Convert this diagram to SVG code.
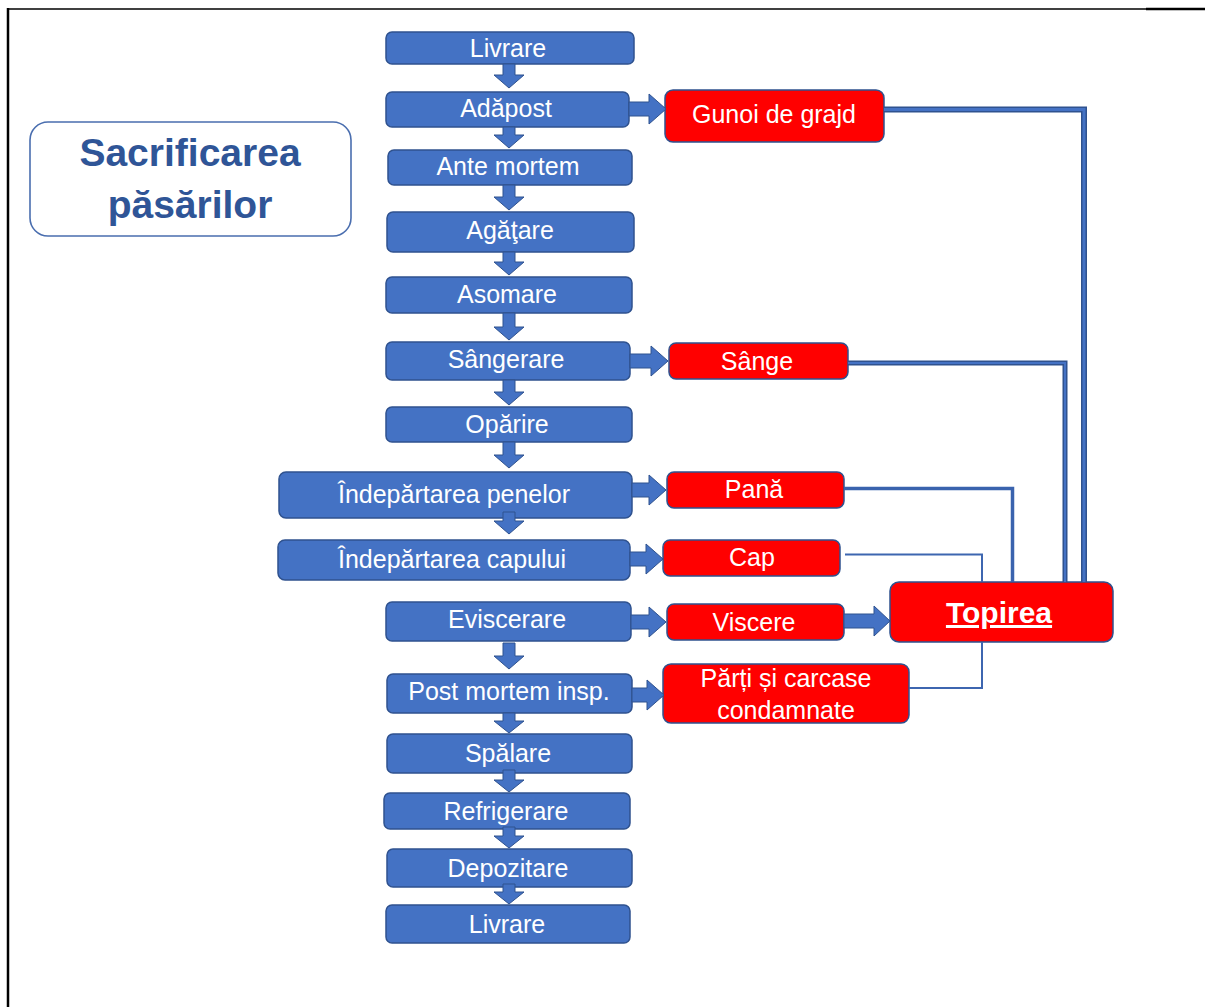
<svg xmlns="http://www.w3.org/2000/svg" width="1205" height="1007" viewBox="0 0 1205 1007">
<style>
text{font-family:"Liberation Sans",Arial,sans-serif;font-size:25px;fill:#fff;text-anchor:middle}
.step rect{fill:#4472C4;stroke:#2F528F;stroke-width:1.5}
.waste rect{fill:#FF0000;stroke:#2F528F;stroke-width:1.5}
.title rect{fill:#fff;stroke:#4A6EAF;stroke-width:1.6}
.title text{font-size:39px;font-weight:bold;fill:#2F5597}
.big text{font-size:30px;font-weight:bold;text-decoration:underline}
.arrow{fill:#4472C4;stroke:#2F528F;stroke-width:1}
.wire{fill:none;stroke-linejoin:miter;stroke-linecap:butt}
.dark{stroke:#2F528F}
.light{stroke:#4472C4}
</style>

<!-- page frame -->
<g id="frame" fill="none" stroke="#000">
  <path d="M7,9H1146" stroke-width="1.5"/>
  <path d="M1146,9H1205" stroke-width="2.5"/>
  <path d="M8,8V1007" stroke-width="2.5"/>
</g>

<!-- title -->
<g id="title" class="title">
  <rect x="30" y="122" width="321" height="114" rx="18"/>
  <text x="190" y="166">Sacrificarea</text>
  <text x="190" y="218">păsărilor</text>
</g>

<!-- processing steps -->
<g id="n-livrare1" class="step"><rect x="386" y="32" width="248" height="32" rx="6"/><text x="508" y="57">Livrare</text></g>
<g id="n-adapost" class="step"><rect x="386" y="92" width="243" height="35" rx="6"/><text x="506" y="117">Adăpost</text></g>
<g id="n-antemortem" class="step"><rect x="388" y="150" width="244" height="35" rx="6"/><text x="508" y="175">Ante mortem</text></g>
<g id="n-agatare" class="step"><rect x="387" y="212" width="247" height="40" rx="6"/><text x="510" y="239">Agăţare</text></g>
<g id="n-asomare" class="step"><rect x="386" y="277" width="246" height="36" rx="6"/><text x="507" y="303">Asomare</text></g>
<g id="n-sangerare" class="step"><rect x="386" y="342" width="244" height="38" rx="6"/><text x="506" y="368">Sângerare</text></g>
<g id="n-oparire" class="step"><rect x="386" y="407" width="246" height="35" rx="6"/><text x="507" y="433">Opărire</text></g>
<g id="n-penelor" class="step"><rect x="279" y="472" width="353" height="46" rx="7"/><text x="454" y="503">Îndepărtarea penelor</text></g>
<g id="n-capului" class="step"><rect x="278" y="540" width="352" height="40" rx="7"/><text x="452" y="568">Îndepărtarea capului</text></g>
<g id="n-eviscerare" class="step"><rect x="386" y="602" width="245" height="39" rx="6"/><text x="507" y="628">Eviscerare</text></g>
<g id="n-postmortem" class="step"><rect x="387" y="674" width="245" height="39" rx="6"/><text x="509" y="700">Post mortem insp.</text></g>
<g id="n-spalare" class="step"><rect x="387" y="734" width="245" height="39" rx="6"/><text x="508" y="762">Spălare</text></g>
<g id="n-refrigerare" class="step"><rect x="384" y="793" width="246" height="36" rx="6"/><text x="506" y="820">Refrigerare</text></g>
<g id="n-depozitare" class="step"><rect x="387" y="849" width="245" height="38" rx="6"/><text x="508" y="877">Depozitare</text></g>
<g id="n-livrare2" class="step"><rect x="386" y="905" width="244" height="38" rx="6"/><text x="507" y="933">Livrare</text></g>

<!-- by-products -->
<g id="n-gunoi" class="waste"><rect x="665" y="90" width="219" height="52" rx="8"/><text x="774" y="123">Gunoi de grajd</text></g>
<g id="n-sange" class="waste"><rect x="669" y="343" width="179" height="36" rx="7"/><text x="757" y="370">Sânge</text></g>
<g id="n-pana" class="waste"><rect x="667" y="472" width="177" height="36" rx="7"/><text x="754" y="498">Pană</text></g>
<g id="n-cap" class="waste"><rect x="663" y="540" width="177" height="36" rx="7"/><text x="752" y="566">Cap</text></g>
<g id="n-viscere" class="waste"><rect x="667" y="604" width="177" height="36" rx="7"/><text x="754" y="631">Viscere</text></g>
<g id="n-parti" class="waste"><rect x="663" y="664" width="246" height="59" rx="8"/><text x="786" y="687">Părți și carcase</text><text x="786" y="719">condamnate</text></g>
<g id="n-topirea" class="waste big"><rect x="890" y="582" width="223" height="60" rx="9"/><text x="999" y="623">Topirea</text></g>

<!-- connectors -->
<g id="connectors">
  <!-- lines collecting by-products into rendering -->
  <path class="wire dark" d="M884,109.5H1084V582" stroke-width="6"/>
  <path class="wire light" d="M884,109.5H1084V582" stroke-width="3"/>
  <path class="wire dark" d="M848,363H1065V582" stroke-width="5"/>
  <path class="wire light" d="M848,363H1065V582" stroke-width="2"/>
  <path class="wire" d="M844,488.5H1012.5V582" stroke="#3A63AE" stroke-width="3.5"/>
  <path class="wire" d="M845,554.5H982V582" stroke="#3D66B0" stroke-width="2"/>
  <path class="wire" d="M909,688H982V642" stroke="#3D66B0" stroke-width="2"/>

  <!-- flow arrows down the main line -->
  <path class="arrow" d="M503,64H515V75H524L509,88L494,75H503Z"/>
  <path class="arrow" d="M503,127H515V135H524L509,148L494,135H503Z"/>
  <path class="arrow" d="M503,185H515V197H524L509,210L494,197H503Z"/>
  <path class="arrow" d="M503,252H515V262H524L509,275L494,262H503Z"/>
  <path class="arrow" d="M503,313H515V327H524L509,340L494,327H503Z"/>
  <path class="arrow" d="M503,380H515V392H524L509,405L494,392H503Z"/>
  <path class="arrow" d="M503,442H515V455H524L509,468L494,455H503Z"/>
  <path class="arrow" d="M503,512H515V521H524L509,534L494,521H503Z"/>
  <path class="arrow" d="M503,643H515V656H524L509,669L494,656H503Z"/>
  <path class="arrow" d="M503,713H515V721H524L509,733L494,721H503Z"/>
  <path class="arrow" d="M503,770H515V780H524L509,792L494,780H503Z"/>
  <path class="arrow" d="M503,827H515V836H524L509,848L494,836H503Z"/>
  <path class="arrow" d="M503,884H515V892H524L509,904L494,892H503Z"/>

  <!-- side arrows to by-products -->
  <path class="arrow" d="M629,102H649V94L666,109L649,124V116H629Z"/>
  <path class="arrow" d="M630,354H651V346L668,361L651,376V368H630Z"/>
  <path class="arrow" d="M632,483H649V475L666,490L649,505V497H632Z"/>
  <path class="arrow" d="M630,552H646V544L663,559L646,574V566H630Z"/>
  <path class="arrow" d="M631,615H649V607L666,622L649,637V629H631Z"/>
  <path class="arrow" d="M632,688H647V680L664,695L647,710V702H632Z"/>
  <path class="arrow" d="M844,614H874V606L890,621L874,636V628H844Z"/>
</g>
</svg>
